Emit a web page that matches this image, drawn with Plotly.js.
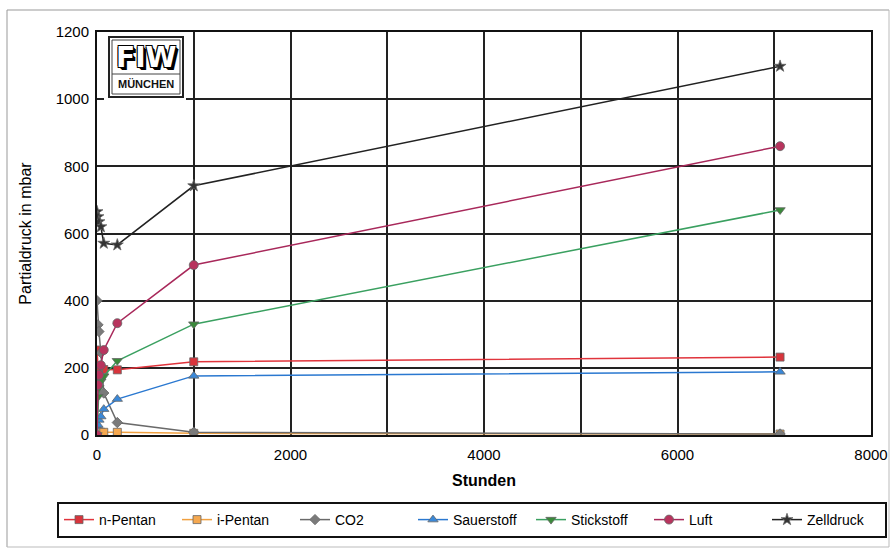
<!DOCTYPE html>
<html><head><meta charset="utf-8">
<script src="https://cdn.plot.ly/plotly-3.0.1.min.js"></script>
<style>body{margin:0;background:#fff}#c{width:890px;height:548px}</style>
</head><body><div id="c"></div>
<script>
const hours = [0, 10, 20, 40, 70, 210, 1000, 7060];
const nPentan    = [253, 205, 200, 198, 195, 194, 218, 232];
const iPentan    = [10, 9, 9, 8, 8, 8, 5, 3];
const co2        = [400, 328, 308, 245, 125, 37, 8, 3];
const sauerstoff = [0, 30, 45, 55, 77, 107, 176, 188];
const stickstoff = [0, 114, 140, 160, 175, 221, 330, 670];
const luft       = [0, 149, 179, 208, 253, 333, 506, 860];
const zelldruck  = [665, 650, 635, 620, 571, 566, 742, 1098];
const seriesNames = ['n-Pentan','i-Pentan','CO2','Sauerstoff','Stickstoff','Luft','Zelldruck'];
const xTicks = [0, 2000, 4000, 6000, 8000];

const styles = [
  {lc:'#e0343c', mc:'#d8343c', sym:'square', sz:8},
  {lc:'#f0a040', mc:'#f5a850', sym:'square', sz:8},
  {lc:'#6a6a6a', mc:'#7a7a7a', sym:'diamond', sz:8},
  {lc:'#2a78d0', mc:'#3a88d8', sym:'triangle-up', sz:9},
  {lc:'#3aa060', mc:'#3a8a3a', sym:'triangle-down', sz:9},
  {lc:'#a8285a', mc:'#b8345e', sym:'circle', sz:9},
  {lc:'#222222', mc:'#333333', sym:'star', sz:9}
];
const data = [nPentan, iPentan, co2, sauerstoff, stickstoff, luft, zelldruck];
const traces = data.map((ys, i) => ({
  type:'scatter', mode:'lines+markers', x:hours, y:ys, name:seriesNames[i],
  line:{color:styles[i].lc, width:1.5},
  marker:{symbol:styles[i].sym, size:styles[i].sz, color:styles[i].mc, line:{color:'#666', width:0.8}}
}));

const L = 97, T = 32, W = 774, H = 403;
const px = x => (x - L) / W, py = y => (T + H - y) / H;
const font = 'Liberation Sans, Arial, sans-serif';

const layout = {
  width:890, height:548, paper_bgcolor:'#fff', plot_bgcolor:'#fff',
  margin:{l:L, r:890-L-W, t:T, b:548-T-H, autoexpand:false},
  showlegend:true,
  font:{family:font, color:'#000'},
  xaxis:{range:[0,8000], tickmode:'array', tickvals:xTicks, ticktext:xTicks.map(String),
    showgrid:true, gridcolor:'#222', gridwidth:2,
    minor:{dtick:1000, tick0:0, showgrid:true, gridcolor:'#222', gridwidth:2},
    zeroline:false, showline:true, linecolor:'#111', linewidth:2, mirror:true,
    ticks:'', ticklabelstandoff:5, ticklabeloverflow:'allow', tickfont:{size:15, family:font},
    title:{text:'<b>Stunden</b>', font:{size:16, family:font}, standoff:13}},
  yaxis:{range:[0,1200], dtick:200, showgrid:true, gridcolor:'#222', gridwidth:2,
    zeroline:false, showline:true, linecolor:'#111', linewidth:2, mirror:true,
    ticks:'', ticklabelstandoff:3, tickfont:{size:15, family:font},
    title:{text:'Partialdruck in mbar', font:{size:16, family:font}, standoff:20}},
  legend:{orientation:'h', x:px(57), y:py(502), xanchor:'left', yanchor:'top',
    bordercolor:'#111', borderwidth:2, bgcolor:'#fff',
    font:{size:14, family:font}, entrywidth:73, entrywidthmode:'pixels', itemwidth:30},
  shapes:[
    {type:'line', xref:'paper', yref:'paper', x0:px(7), x1:px(889), y0:py(10), y1:py(10), line:{color:'#999', width:1}},
    {type:'line', xref:'paper', yref:'paper', x0:px(7), x1:px(7), y0:py(10), y1:py(547), line:{color:'#999', width:1}},
    {type:'line', xref:'paper', yref:'paper', x0:px(889), x1:px(889), y0:py(10), y1:py(547), line:{color:'#bbb', width:1}},
    {type:'line', xref:'paper', yref:'paper', x0:px(7), x1:px(889), y0:py(547), y1:py(547), line:{color:'#bbb', width:1}},
    {type:'rect', xref:'paper', yref:'paper', x0:px(104), x1:px(186), y0:py(34), y1:py(100), fillcolor:'#fff', line:{color:'#fff', width:0}},
    {type:'rect', xref:'paper', yref:'paper', x0:px(109), x1:px(183), y0:py(37), y1:py(97), fillcolor:'#fff', line:{color:'#222', width:2}},
    {type:'rect', xref:'paper', yref:'paper', x0:px(112), x1:px(180), y0:py(40), y1:py(94), fillcolor:'rgba(0,0,0,0)', line:{color:'#444', width:1}},
    {type:'line', xref:'paper', yref:'paper', x0:px(112), x1:px(180), y0:py(74), y1:py(74), line:{color:'#444', width:1}}
  ],
  annotations:[
    {xref:'paper', yref:'paper', x:px(146), y:py(57), xanchor:'center', yanchor:'middle', text:'<b>FIW</b>', showarrow:false,
      font:{family:'DejaVu Sans, sans-serif', size:28, color:'#fff',
        shadow:'2px 2px 0 #000, 3px 3px 0 #000, -1px -1px 0 #000, 1px -1px 0 #000, -1px 1px 0 #000, 1px 1px 0 #000'}},
    {xref:'paper', yref:'paper', x:px(146), y:py(84), xanchor:'center', yanchor:'middle', text:'<b>MÜNCHEN</b>', showarrow:false,
      font:{family:font, size:11, color:'#111'}}
  ]
};
Plotly.newPlot('c', traces, layout, {displayModeBar:false, staticPlot:true});
</script></body></html>
